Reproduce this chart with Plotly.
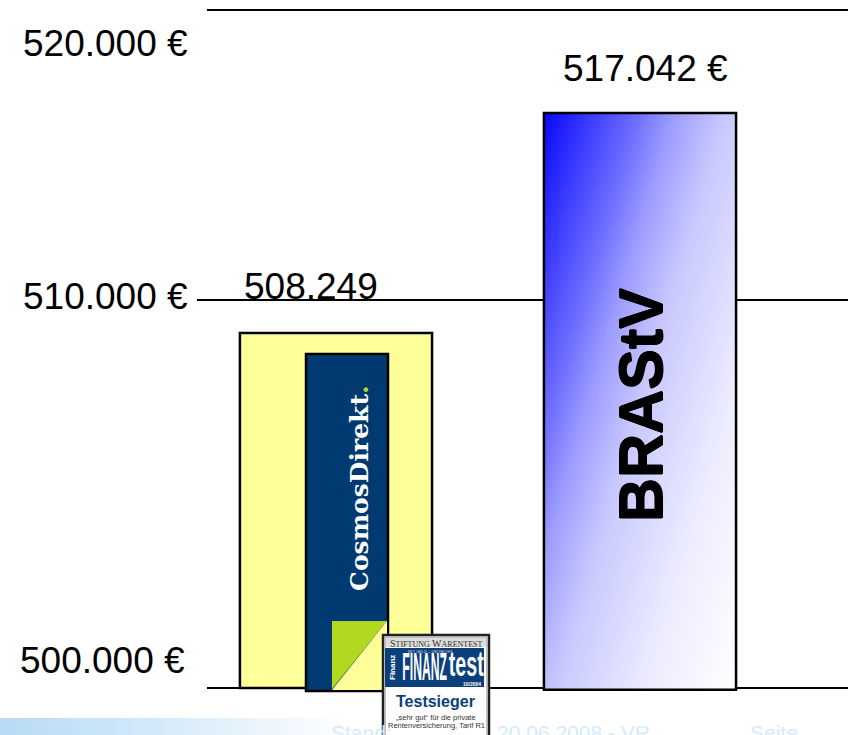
import numpy as np
import plotly.graph_objects as go

W, H = 848, 735

# values
providers = ["CosmosDirekt", "BRAStV"]
drawn_heights = [510470, 516960]      # bar tops as drawn in the picture
bar_bases = [500000, 499950]
bar_labels = ["508.249", "517.042 €"]
grid_values = [500000, 511445, 520000]   # rules as drawn in the picture
tick_labels = ["500.000 €", "510.000 €", "520.000 €"]

Y0, Y1 = 498614, 520295   # axis range for bottom/top of the page
X0, X1 = -0.4243, 1.6842


def px(x):
    return x / W


def py(y):
    return 1 - y / H


def rect(x0, y0, x1, y1, fill, line=None, lw=2, layer="above"):
    return dict(type="rect", xref="paper", yref="paper", x0=px(x0), x1=px(x1), y0=py(y0), y1=py(y1),
                fillcolor=fill, line=dict(color=line or "rgba(0,0,0,0)", width=lw if line else 0), layer=layer)


def poly(points, fill):
    path = "M " + " L ".join(f"{px(a):.5f},{py(b):.5f}" for a, b in points) + " Z"
    return dict(type="path", xref="paper", yref="paper", path=path, fillcolor=fill, line=dict(width=0), layer="above")


def note(x, y, text, size, color="#000000", family="Liberation Sans", angle=0, xanchor="center", shadow=None):
    font = dict(family=family, size=size, color=color)
    if shadow:
        font["shadow"] = shadow
    return dict(xref="paper", yref="paper", x=px(x), y=py(y), text=text, showarrow=False, textangle=angle,
                xanchor=xanchor, yanchor="middle", font=font, borderpad=0, borderwidth=0)


fig = go.Figure()

# diagonal gradient fill for the second bar
n = 96
half = 0.316
gx = np.linspace(1 - half, 1 + half, n + 1)
gy = np.linspace(bar_bases[1], drawn_heights[1], n + 1)
u = (np.arange(n) + 0.5) / n
gz = 0.53 * u[None, :] + 0.47 * (1 - u)[:, None]
fig.add_trace(go.Heatmap(x=gx, y=gy, z=gz, zmin=0, zmax=1, showscale=False, hoverinfo="skip",
                         colorscale=[[0, "#0808ff"], [0.265, "#7070ff"], [0.36, "#9c9cff"], [0.5, "#c8c8ff"],
                                     [0.75, "#ececff"], [1, "#ffffff"]]))

fig.add_trace(go.Bar(x=[0, 1], y=[h - b for h, b in zip(drawn_heights, bar_bases)], base=bar_bases,
                     width=2 * half, customdata=providers,
                     marker=dict(color=["#ffff99", "rgba(0,0,0,0)"], line=dict(color="#000000", width=2.5))))

shapes = []
# footer band fading out to white
steps = 42
for i in range(steps):
    t = i / steps
    c = [int(a + (255 - a) * t ** 1.1) for a in (184, 220, 246)]
    shapes.append(rect(i * 345 / steps, 718, (i + 1) * 345 / steps + 1, 735, f"rgb({c[0]},{c[1]},{c[2]})", layer="below"))
# tick stub of the middle rule
shapes.append(dict(type="line", xref="paper", yref="paper", x0=px(197), x1=px(207), y0=py(300), y1=py(300),
                   line=dict(color="#000000", width=2)))
# CosmosDirekt logo
shapes.append(rect(306, 354, 388, 691, "#003a70", "#000000", 2.5))
shapes.append(poly([(332, 621), (387, 621), (332, 689)], "#b0d820"))
shapes.append(poly([(387, 621), (387, 690), (332, 690)], "#ffff99"))
# Finanztest badge
shapes.append(rect(383, 635, 489, 742, "#ffffff", "#222222", 2.5))
shapes.append(rect(385, 637, 487, 740, "#ffffff", "#aaaaaa", 1.5))
shapes.append(rect(386, 638, 486, 647, "#dcdcdc"))
shapes.append(rect(385, 648, 484, 687, "#0b3f7c"))

annotations = [
    note(331, 732, "Stand:", 21, "#d4ebfa", xanchor="left"),
    note(497, 732, "20.06.2008 - VR", 21, "#d4ebfa", xanchor="left"),
    note(750, 732, "Seite", 21, "#d4ebfa", xanchor="left"),
    note(188, 43, tick_labels[2], 37, xanchor="right"),
    note(188, 297, tick_labels[1], 37, xanchor="right"),
    note(185, 660, tick_labels[0], 37, xanchor="right"),
    note(311, 287, bar_labels[0], 37),
    note(645, 68, bar_labels[1], 37),
    note(641, 405, "<b>BRAStV</b>", 61, angle=-90, shadow="0.6px 0 0 #000, -0.6px 0 0 #000, 0 0.6px 0 #000, 0 -0.6px 0 #000"),
    note(359, 488, '<b>CosmosDirekt<span style="color:#b0d820">.</span></b>', 25, "#ffffff", "DejaVu Serif", -90),
    note(436, 643, "S<span style='font-size:8px'>TIFTUNG</span> W<span style='font-size:8px'>ARENTEST</span>", 10, "#333333", "Liberation Serif"),
    note(392, 668, "<b>Finanz</b>", 8, "#ffffff", angle=-90),
    note(425, 667, "<b>FINANZ</b>", 38, "#ffffff"),
    note(466, 663, "<b>test</b>", 35, "#ffffff"),
    note(430, 651, "MIT GELD + UM RECHT", 4, "#d0d8e8"),
    note(472, 684, "<b>10/2004</b>", 5, "#ffffff"),
    note(435, 701, "<b>Testsieger</b>", 16, "#0b3f7c"),
    note(436, 717, "„sehr gut“ für die private", 7.5, "#333333"),
    note(436, 725, "Rentenversicherung, Tarif R1", 7.5, "#333333"),
]

fig.update_layout(
    width=W, height=H, margin=dict(l=0, r=0, t=0, b=0), autosize=False,
    paper_bgcolor="#ffffff", plot_bgcolor="rgba(0,0,0,0)", showlegend=False,
    shapes=shapes, annotations=annotations,
    xaxis=dict(domain=[207 / W, 1], range=[X0, X1], visible=False, fixedrange=True),
    yaxis=dict(domain=[0, 1], range=[Y0, Y1], tickvals=grid_values, ticktext=tick_labels, showticklabels=False,
               showgrid=True, gridcolor="#000000", gridwidth=2, zeroline=False, showline=False, ticks="", fixedrange=True,
               anchor="x"),
)

# page without its default margin; the condensed masthead letters of the badge have no installed narrow font
post = """
document.body.style.margin = '0';
document.documentElement.style.overflow = 'hidden';
var squeeze = {'FINANZ': 0.32, 'test': 0.56};
document.querySelectorAll('.annotation-text').forEach(function (t) {
  var f = squeeze[t.textContent];
  if (f) { t.style.transformBox = 'fill-box'; t.style.transformOrigin = 'center'; t.style.transform = 'scaleX(' + f + ')'; }
});
"""
fig.write_html("out.html", post_script=post, config=dict(displayModeBar=False))
